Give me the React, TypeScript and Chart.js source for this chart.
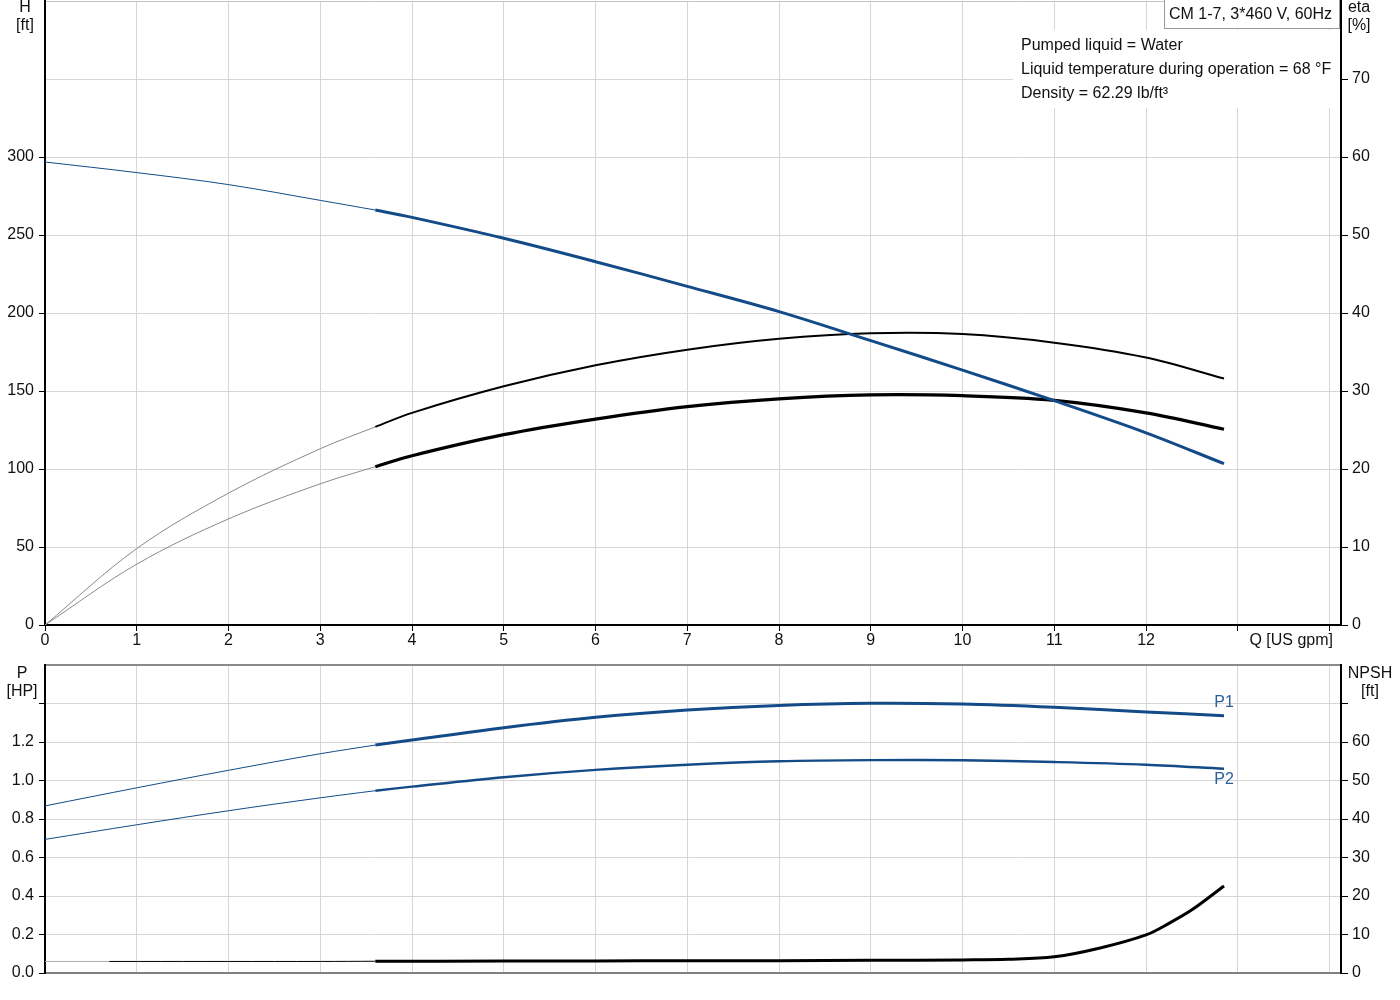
import React, { useEffect, useRef } from 'react';
import { Chart, registerables } from 'chart.js';

Chart.register(...registerables);

// flow axis (US gpm)
const qTicks = [0, 1, 2, 3, 4, 5, 6, 7, 8, 9, 10, 11, 12, 13, 14];
const Q_MAX = 14.125;

// part of the curves below the allowed operating range (thin)
const qThin = [0, 1, 2, 3, 3.6];
// operating range (thick)
const qMain = [3.6, 4, 5, 6, 7, 8, 9, 10, 11, 12, 12.85];

// head H [ft]
const headThin = [296.8, 290, 282.3, 272.2, 266];
const headMain = [266, 261.3, 247.9, 232.9, 217.1, 200.9, 182.3, 163.4, 143.8, 123.2, 103.4];

// pump efficiency eta [%]
const etaThin = [0, 9.8, 16.9, 22.6, 25.4];
const etaMain = [25.4, 27.2, 30.6, 33.3, 35.3, 36.7, 37.4, 37.3, 36.2, 34.3, 31.6];

// total efficiency eta [%]
const etaTotThin = [0, 7.8, 13.6, 18.1, 20.3];
const etaTotMain = [20.3, 21.7, 24.4, 26.4, 28.0, 29.0, 29.5, 29.4, 28.8, 27.2, 25.1];

// power P1 / P2 [HP]
const p1Thin = [0.868, 0.962, 1.053, 1.139, 1.184];
const p1Main = [1.184, 1.21, 1.274, 1.328, 1.366, 1.39, 1.401, 1.397, 1.38, 1.356, 1.337];
const p2Thin = [0.694, 0.77, 0.843, 0.91, 0.947];
const p2Main = [0.947, 0.968, 1.017, 1.055, 1.082, 1.1, 1.106, 1.105, 1.096, 1.082, 1.061];

// NPSH [ft]
const qNpshGray = [0, 0.7];
const npshGray = [3.0, 3.0];
const qNpshThin = [0.7, 1, 2, 3, 3.6];
const npshThin = [3.0, 3.0, 3.0, 3.0, 3.05];
const qNpshMain = [3.6, 5, 6, 7, 8, 9, 10, 10.5, 11, 11.5, 12, 12.25, 12.5, 12.85];
const npshMain = [3.05, 3.1, 3.1, 3.2, 3.2, 3.3, 3.4, 3.55, 4.2, 6.5, 9.9, 12.9, 16.4, 22.6];

// axis ticks
const headTicks = [0, 50, 100, 150, 200, 250, 300, 350, 400];
const etaTicks = [0, 10, 20, 30, 40, 50, 60, 70, 80];
const powerTicks = [0, 0.2, 0.4, 0.6, 0.8, 1.0, 1.2, 1.4, 1.6];
const npshTicks = [0, 10, 20, 30, 40, 50, 60, 70, 80];

const BLUE = '#124b88';
const GRID = '#d6d6d6';
const FONT = '"Liberation Sans", Arial, sans-serif';

Chart.defaults.font.family = FONT;
Chart.defaults.font.size = 16;
Chart.defaults.color = '#111';

function pts(xs: number[], ys: number[]) {
  return xs.map((x, i) => ({ x, y: ys[i] }));
}

function setTicks(values: number[]) {
  return (scale: any) => {
    scale.ticks = values.map((v) => ({ value: v }));
  };
}

// fix the box size of an axis and drop the label overflow padding
function fitWidth(w: number) {
  return (s: any) => {
    s.width = w;
    s.paddingTop = 0;
    s.paddingBottom = 0;
  };
}
function fitHeight(h: number) {
  return (s: any) => {
    s.height = h;
    s.paddingLeft = 0;
    s.paddingRight = 0;
  };
}

const commonOptions: any = {
  animation: false,
  responsive: false,
  elements: {
    point: { radius: 0 },
    line: { tension: 0.35, fill: false },
  },
  plugins: { legend: { display: false }, tooltip: { enabled: false } },
};

export default function App() {
  const topRef = useRef<HTMLCanvasElement>(null);
  const bottomRef = useRef<HTMLCanvasElement>(null);

  useEffect(() => {
    if (!topRef.current || !bottomRef.current) return;

    const top = new Chart(topRef.current, {
      type: 'line',
      data: {
        datasets: [
          { data: pts(qMain, headMain), borderColor: BLUE, borderWidth: 3, yAxisID: 'y' },
          { data: pts(qThin, headThin), borderColor: BLUE, borderWidth: 1, yAxisID: 'y' },
          { data: pts(qMain, etaMain), borderColor: '#000', borderWidth: 2, yAxisID: 'eta' },
          { data: pts(qThin, etaThin), borderColor: '#888', borderWidth: 1, yAxisID: 'eta' },
          { data: pts(qMain, etaTotMain), borderColor: '#000', borderWidth: 3.2, yAxisID: 'eta' },
          { data: pts(qThin, etaTotThin), borderColor: '#888', borderWidth: 1, yAxisID: 'eta' },
        ],
      } as any,
      options: {
        ...commonOptions,
        layout: { padding: { top: 1, left: 0, right: 0, bottom: 0 } },
        scales: {
          x: {
            type: 'linear',
            min: 0,
            max: Q_MAX,
            afterBuildTicks: setTicks(qTicks),
            afterFit: fitHeight(30),
            grid: {
              color: (c: any) => (c.tick && c.tick.value === 0 ? 'transparent' : GRID),
              tickColor: '#000',
              tickLength: 6,
            },
            border: { color: '#000', width: 2 },
            ticks: {
              autoSkip: false,
              maxRotation: 0,
              padding: 0,
              callback: (v: any) => (v <= 12 ? String(v) : ''),
            },
          },
          y: {
            type: 'linear',
            position: 'left',
            min: 0,
            max: 400,
            afterBuildTicks: setTicks(headTicks),
            afterFit: fitWidth(45),
            grid: {
              color: (c: any) => (c.tick && c.tick.value === 400 ? '#c4c4c4' : GRID),
              tickColor: (c: any) => (c.tick && c.tick.value <= 300 ? '#000' : 'transparent'),
              tickLength: 6,
            },
            border: { color: '#000', width: 2 },
            ticks: {
              padding: 5,
              callback: (v: any) => (v <= 300 ? String(v) : ''),
            },
          },
          eta: {
            type: 'linear',
            position: 'right',
            min: 0,
            max: 80,
            afterBuildTicks: setTicks(etaTicks),
            afterFit: fitWidth(59),
            grid: {
              drawOnChartArea: false,
              tickColor: (c: any) => (c.tick && c.tick.value <= 70 ? '#000' : 'transparent'),
              tickLength: 7,
            },
            border: { color: '#000', width: 2 },
            ticks: {
              padding: 4,
              callback: (v: any) => (v <= 70 ? String(v) : ''),
            },
          },
        },
      },
    } as any);

    const endLabels = {
      id: 'endLabels',
      afterDatasetsDraw(chart: any) {
        const ctx = chart.ctx;
        const xs = chart.scales.x;
        const ys = chart.scales.p;
        const last = qMain.length - 1;
        const x = xs.getPixelForValue(qMain[last]);
        ctx.save();
        ctx.fillStyle = '#2c5f9c';
        ctx.font = '16px ' + FONT;
        ctx.textAlign = 'center';
        ctx.textBaseline = 'middle';
        ctx.fillText('P1', x, ys.getPixelForValue(p1Main[last]) - 13);
        ctx.fillText('P2', x, ys.getPixelForValue(p2Main[last]) + 11);
        ctx.restore();
      },
    };

    const bottom = new Chart(bottomRef.current, {
      type: 'line',
      data: {
        datasets: [
          { data: pts(qMain, p1Main), borderColor: BLUE, borderWidth: 3, yAxisID: 'p' },
          { data: pts(qThin, p1Thin), borderColor: BLUE, borderWidth: 1, yAxisID: 'p' },
          { data: pts(qMain, p2Main), borderColor: BLUE, borderWidth: 2.4, yAxisID: 'p' },
          { data: pts(qThin, p2Thin), borderColor: BLUE, borderWidth: 1, yAxisID: 'p' },
          { data: pts(qNpshMain, npshMain), borderColor: '#000', borderWidth: 3, yAxisID: 'npsh' },
          { data: pts(qNpshThin, npshThin), borderColor: '#000', borderWidth: 1, yAxisID: 'npsh' },
          { data: pts(qNpshGray, npshGray), borderColor: '#aaa', borderWidth: 1, yAxisID: 'npsh' },
        ],
      } as any,
      options: {
        ...commonOptions,
        layout: { padding: { top: 10, left: 0, right: 0, bottom: 0 } },
        scales: {
          x: {
            type: 'linear',
            min: 0,
            max: Q_MAX,
            afterBuildTicks: setTicks(qTicks),
            afterFit: fitHeight(27),
            grid: {
              color: (c: any) => (c.tick && c.tick.value === 0 ? 'transparent' : GRID),
              drawTicks: false,
            },
            border: { color: '#808080', width: 2 },
            ticks: { display: false },
          },
          p: {
            type: 'linear',
            position: 'left',
            min: 0,
            max: 1.6,
            afterBuildTicks: setTicks(powerTicks),
            afterFit: fitWidth(45),
            grid: {
              color: (c: any) => (c.tick && c.tick.value > 1.55 ? '#8a8a8a' : GRID),
              lineWidth: (c: any) => (c.tick && c.tick.value > 1.55 ? 2 : 1),
              tickColor: (c: any) => (c.tick && c.tick.value < 1.5 ? '#000' : 'transparent'),
              tickLength: 6,
            },
            border: { color: '#000', width: 2 },
            ticks: {
              padding: 5,
              callback: (v: any) => (v < 1.3 ? Number(v).toFixed(1) : ''),
            },
          },
          npsh: {
            type: 'linear',
            position: 'right',
            min: 0,
            max: 80,
            afterBuildTicks: setTicks(npshTicks),
            afterFit: fitWidth(59),
            grid: {
              drawOnChartArea: false,
              tickColor: (c: any) => (c.tick && c.tick.value <= 70 ? '#000' : 'transparent'),
              tickLength: 7,
            },
            border: { color: '#000', width: 2 },
            ticks: {
              padding: 4,
              callback: (v: any) => (v <= 60 ? String(v) : ''),
            },
          },
        },
      },
      plugins: [endLabels],
    } as any);

    return () => {
      top.destroy();
      bottom.destroy();
    };
  }, []);

  const text: React.CSSProperties = {
    position: 'absolute',
    fontFamily: FONT,
    fontSize: 16,
    lineHeight: '18px',
    color: '#111',
    whiteSpace: 'nowrap',
  };

  return (
    <div style={{ position: 'absolute', left: 0, top: 0, width: 1400, height: 1000, background: '#fff', overflow: 'hidden' }}>
      <canvas ref={topRef} width={1400} height={655} style={{ position: 'absolute', left: 0, top: 0, width: 1400, height: 655 }} />
      <canvas ref={bottomRef} width={1400} height={345} style={{ position: 'absolute', left: 0, top: 655, width: 1400, height: 345 }} />

      <div style={{ ...text, left: 0, top: -2, width: 50, textAlign: 'center' }}>H<br />[ft]</div>
      <div style={{ ...text, left: 1339, top: -2, width: 40, textAlign: 'center' }}>eta<br />[%]</div>
      <div style={{ ...text, left: 1150, top: 631, width: 183, textAlign: 'right' }}>Q [US gpm]</div>
      <div style={{ ...text, left: 0, top: 664, width: 44, textAlign: 'center' }}>P<br />[HP]</div>
      <div style={{ ...text, left: 1340, top: 664, width: 60, textAlign: 'center' }}>NPSH<br />[ft]</div>

      <div style={{ position: 'absolute', left: 1013, top: 30, width: 327, height: 78, background: '#fff' }} />
      <div style={{ ...text, left: 1021, top: 33, lineHeight: '24px' }}>
        Pumped liquid = Water<br />
        Liquid temperature during operation = 68 °F<br />
        Density = 62.29 lb/ft³
      </div>
      <div
        style={{
          ...text,
          left: 1164,
          top: -1,
          width: 176,
          height: 30,
          boxSizing: 'border-box',
          border: '1px solid #9a9a9a',
          background: '#fff',
          textAlign: 'right',
          paddingRight: 7,
          lineHeight: '27px',
          paddingTop: 0,
        }}
      >
        CM 1-7, 3*460 V, 60Hz
      </div>
    </div>
  );
}
